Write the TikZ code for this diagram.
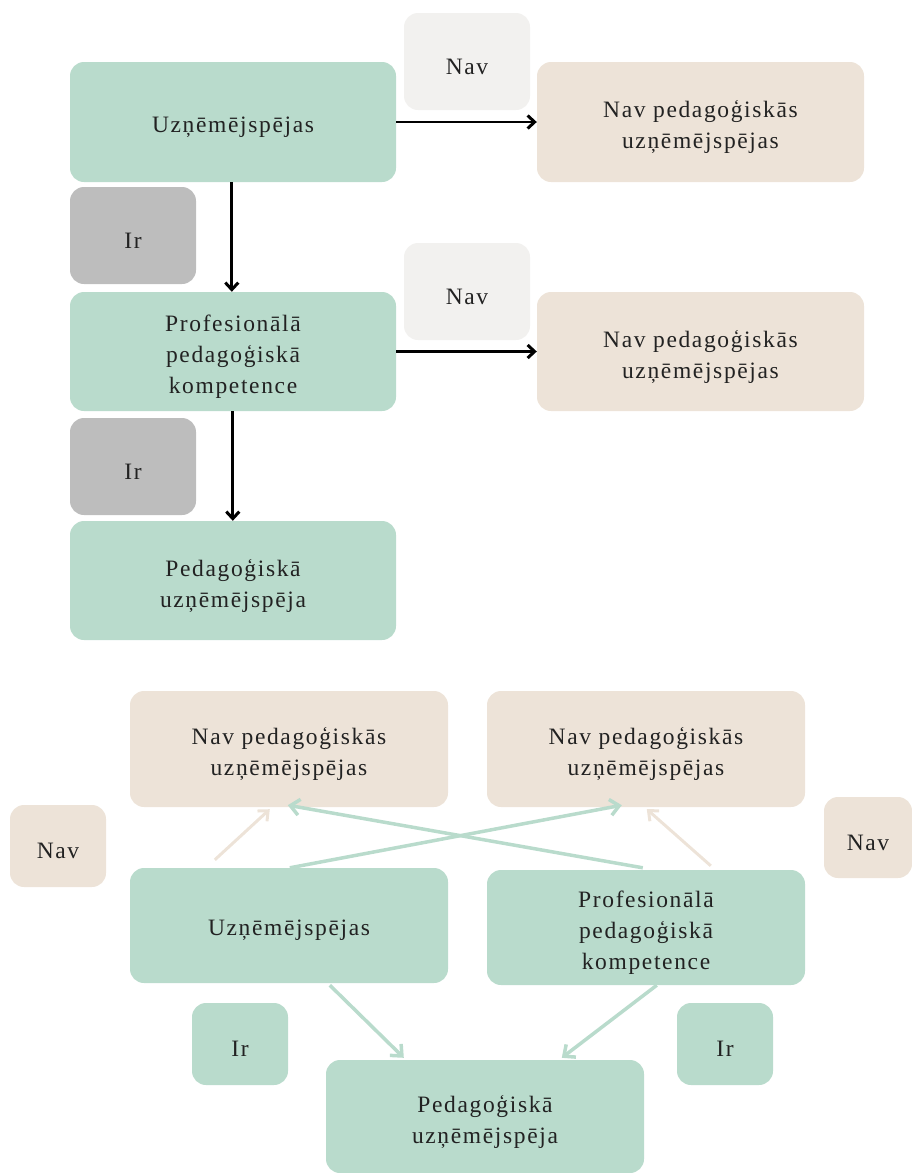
\documentclass[tikz,border=0pt]{standalone}
\usepackage{fontspec}
\setmainfont{Liberation Serif}[LetterSpace=7]
\usetikzlibrary{arrows.meta,calc}
\definecolor{grn}{HTML}{B9DBCC}
\definecolor{bei}{HTML}{EDE3D8}
\definecolor{lgr}{HTML}{F2F1EF}
\definecolor{dgr}{HTML}{BDBDBD}
\definecolor{txt}{HTML}{222222}
\tikzset{
  box/.style={rounded corners=14pt, inner sep=0pt},
  lbl/.style={inner sep=0pt, align=center, text=txt, font=\fontsize{23.5}{31}\selectfont},
  gbox/.style={box, fill=grn},
  bbox/.style={box, fill=bei},
  lbox/.style={box, fill=lgr},
  dbox/.style={box, fill=dgr},
  blk/.style={-{Straight Barb[length=7pt,width=13pt,line width=3pt]}, line width=2.8pt, black},
  garr/.style={-{Straight Barb[length=9pt,width=16pt]}, line width=3.5pt, grn},
  barr/.style={-{Straight Barb[length=8pt,width=14pt]}, line width=3pt, bei},
}
\newcommand{\bx}[7]{% style, name, x1, y1, x2, y2, text
  \node[#1, minimum width={#5-#3}, minimum height={#6-#4}] (#2) at ({(#3+#5)/2},{(#4+#6)/2}) {};
  \node[lbl] (#2-t) at ([yshift=-5pt]#2.center) {#7};}
\begin{document}
\begin{tikzpicture}[x=1pt,y=-1pt]
\useasboundingbox (0,0) rectangle (912,1173);
% top part
\bx{gbox}{u1}{70}{62}{396}{182}{Uzņēmējspējas}
\bx{lbox}{nv1}{404}{13}{530}{110}{Nav}
\bx{bbox}{np1}{537}{62}{864}{182}{Nav pedagoģiskās\\uzņēmējspējas}
\bx{dbox}{ir1}{70}{187}{196}{284}{Ir}
\bx{gbox}{p1}{70}{292}{396}{411}{Profesionālā\\pedagoģiskā\\kompetence}
\bx{lbox}{nv2}{404}{243}{530}{340}{Nav}
\bx{bbox}{np2}{537}{292}{864}{411}{Nav pedagoģiskās\\uzņēmējspējas}
\bx{dbox}{ir2}{70}{418}{196}{515}{Ir}
\bx{gbox}{pu1}{70}{521}{396}{640}{Pedagoģiskā\\uzņēmējspēja}
\draw[blk] (u1.east) -- (np1.west);
\draw[blk] ($(u1.south west)+(162,0)$) -- ($(p1.north west)+(162,0)$);
\draw[blk] (p1.east) -- (np2.west);
\draw[blk] ($(p1.south west)+(163,0)$) -- ($(pu1.north west)+(163,0)$);
% bottom part
\bx{bbox}{np3}{130}{691}{448}{807}{Nav pedagoģiskās\\uzņēmējspējas}
\bx{bbox}{np4}{487}{691}{805}{807}{Nav pedagoģiskās\\uzņēmējspējas}
\bx{bbox}{nv3}{10}{805}{106}{887}{Nav}
\bx{bbox}{nv4}{824}{797}{912}{878}{Nav}
\bx{gbox}{u2}{130}{868}{448}{983}{Uzņēmējspējas}
\bx{gbox}{p2}{487}{870}{805}{985}{Profesionālā\\pedagoģiskā\\kompetence}
\bx{gbox}{ir3}{192}{1003}{288}{1085}{Ir}
\bx{gbox}{ir4}{677}{1003}{773}{1085}{Ir}
\bx{gbox}{pu2}{326}{1060}{644}{1173}{Pedagoģiskā\\uzņēmējspēja}
\draw[barr] ($(u2.north west)+(85,-8)$) -- ($(np3.south west)+(140,2)$);
\draw[barr] ($(p2.north west)+(224,-4)$) -- ($(np4.south west)+(160,2)$);
\draw[garr] ($(u2.north west)+(160,0)$) -- ($(np4.south west)+(135,-2)$);
\draw[garr] ($(p2.north west)+(156,-2)$) -- ($(np3.south west)+(158,-2)$);
\draw[garr] ($(u2.south west)+(200,2)$) -- ($(pu2.north west)+(78,-2)$);
\draw[garr] ($(p2.south west)+(170,0)$) -- ($(pu2.north west)+(236,-2)$);
\end{tikzpicture}
\end{document}
